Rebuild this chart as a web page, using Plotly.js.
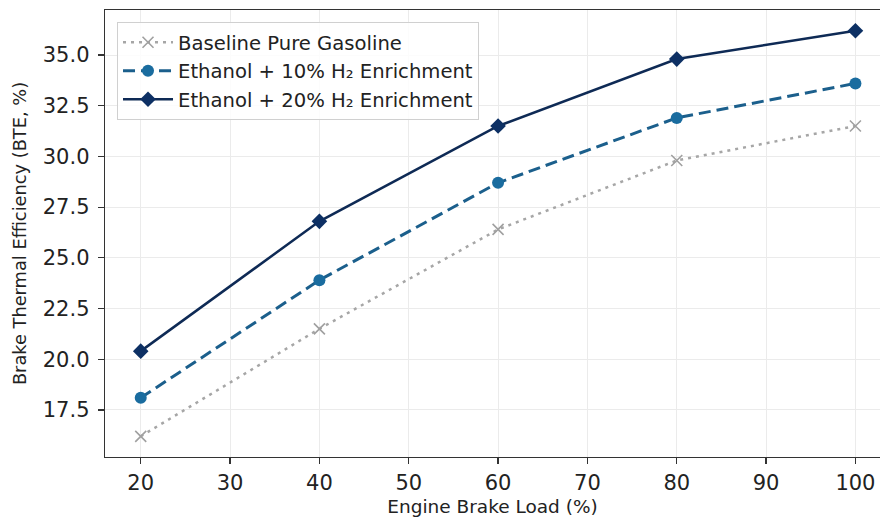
<!DOCTYPE html>
<html>
<head>
<meta charset="utf-8">
<script src="https://cdn.plot.ly/plotly-3.0.1.min.js"></script>
<style>html,body{margin:0;padding:0;background:#fff}#chart{width:880px;height:524px}</style>
</head>
<body>
<div id="chart"></div>
<script>
const loads = [20, 40, 60, 80, 100];
const baseline = [16.2, 21.5, 26.4, 29.8, 31.5];
const h2_10 = [18.1, 23.9, 28.7, 31.9, 33.6];
const h2_20 = [20.4, 26.8, 31.5, 34.8, 36.2];
const seriesNames = ["Baseline Pure Gasoline", "Ethanol + 10% H₂ Enrichment", "Ethanol + 20% H₂ Enrichment"];
const xTicks = [20, 30, 40, 50, 60, 70, 80, 90, 100];
const yTicks = [17.5, 20.0, 22.5, 25.0, 27.5, 30.0, 32.5, 35.0];

const font = "DejaVu Sans, sans-serif";
const traces = [
  {x: loads, y: baseline, name: seriesNames[0], mode: "lines+markers",
   line: {color: "#a6a6a6", width: 2.5, dash: "3px,5px"},
   marker: {symbol: "x-thin", size: 11, line: {color: "#a0a0a0", width: 1.6}, color: "#a0a0a0"}},
  {x: loads, y: h2_10, name: seriesNames[1], mode: "lines+markers",
   line: {color: "#1b5f8c", width: 3, dash: "12px,6px"},
   marker: {symbol: "circle", size: 12, color: "#1a6c9f"}},
  {x: loads, y: h2_20, name: seriesNames[2], mode: "lines+markers",
   line: {color: "#0e2a55", width: 2.5},
   marker: {symbol: "diamond", size: 12, color: "#0d3064"}}
];
const layout = {
  width: 880, height: 524,
  margin: {l: 105, r: 0, t: 10, b: 67},
  paper_bgcolor: "#fff", plot_bgcolor: "#fff",
  font: {family: font, color: "#222"},
  showlegend: true,
  legend: {x: 0.0155, y: 0.973, xanchor: "left", yanchor: "top",
    bgcolor: "rgba(255,255,255,0.85)", bordercolor: "#d0d0d0", borderwidth: 1,
    font: {family: font, size: 19.6, color: "#222"}, tracegroupgap: 0, itemwidth: 50},
  xaxis: {range: [16, 102.75], tickvals: xTicks, ticktext: xTicks.map(String),
    showgrid: true, gridcolor: "#ebebeb", gridwidth: 1, zeroline: false,
    showline: true, linecolor: "#333", linewidth: 1.3, mirror: true,
    ticks: "outside", ticklen: 6, tickwidth: 1.2, tickcolor: "#333",
    tickfont: {family: font, size: 21, color: "#222"},
    title: {text: "Engine Brake Load (%)", font: {family: font, size: 18.5, color: "#222"}, standoff: 6}},
  yaxis: {range: [15.18, 37.22], tickvals: yTicks, ticktext: yTicks.map(v => v.toFixed(1)),
    showgrid: true, gridcolor: "#ebebeb", gridwidth: 1, zeroline: false,
    showline: true, linecolor: "#333", linewidth: 1.3, mirror: false,
    ticks: "outside", ticklen: 6, tickwidth: 1.2, tickcolor: "#333", ticklabelstandoff: 4,
    tickfont: {family: font, size: 21, color: "#222"},
    title: {text: "Brake Thermal Efficiency (BTE, %)", font: {family: font, size: 17.8, color: "#222"}, standoff: 11}}
};
Plotly.newPlot("chart", traces, layout, {displayModeBar: false, staticPlot: true});
</script>
</body>
</html>
